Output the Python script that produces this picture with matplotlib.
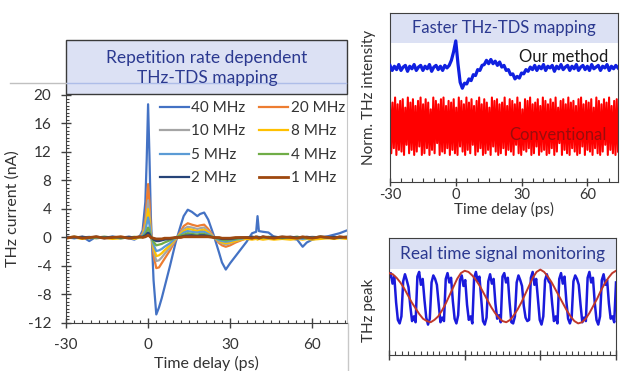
import numpy as np
import matplotlib
matplotlib.use("Agg")
import matplotlib.pyplot as plt
from matplotlib.patches import Rectangle
from matplotlib.lines import Line2D
from matplotlib.ticker import MultipleLocator

plt.rcParams['font.family'] = ['Lato', 'DejaVu Sans']
plt.rcParams['axes.unicode_minus'] = False

# ---------------- data: left panel (THz current vs time delay) ----------------
t_left = [-30, -27, -24, -21.5, -19, -16, -13, -10, -7, -5,
          -3, -2, -1, -0.5, 0, 0.5, 1, 2, 3, 4,
          5, 6, 8, 10, 12, 13, 14.5, 16, 18, 19,
          20.5, 22, 24, 26, 27, 28.4, 30, 32, 34, 36,
          38, 39.5, 40, 40.5, 42, 44, 46, 49, 52, 54.5,
          56.5, 58, 60, 63, 66, 68, 70, 72.7]

mhz40 = [0.1, -0.1, 0.1, -0.5, 0.1, -0.1, 0.1, 0.0, -0.1, -0.3,
         0.2, 1.0, 5.0, 11.0, 18.7, 11.5, 3.0, -6.0, -10.8, -9.8,
         -8.5, -7.0, -4.0, -0.8, 1.8, 3.0, 3.9, 3.6, 3.0, 3.3,
         3.5, 2.5, 0.3, -2.2, -3.5, -4.5, -3.6, -2.6, -1.6, -0.6,
         0.6, 0.8, 3.0, 0.9, 0.8, 0.7, 0.1, 0.0, -0.1, -0.3,
         -1.3, -0.7, -0.3, 0.0, 0.2, 0.4, 0.6, 1.0]
mhz20 = [0.0, 0.1, -0.1, 0.0, 0.1, 0.0, -0.1, 0.1, 0.0, -0.1,
         0.1, 0.6, 2.5, 5.0, 7.5, 5.0, 1.0, -2.5, -4.3, -4.2,
         -3.6, -3.0, -1.8, -0.4, 0.9, 1.6, 2.0, 1.8, 1.6, 1.7,
         1.8, 1.2, 0.1, -0.8, -1.1, -1.3, -1.1, -0.7, -0.4, -0.1,
         0.1, 0.0, 0.1, 0.0, 0.1, 0.0, -0.1, 0.0, 0.1, -0.1,
         -0.2, -0.1, 0.0, 0.1, 0.0, -0.1, 0.1, 0.0]
mhz10 = [0.1, 0.0, 0.1, -0.1, 0.0, 0.1, 0.0, -0.1, 0.1, 0.0,
         0.1, 0.4, 1.8, 3.5, 5.2, 3.4, 0.7, -1.8, -3.3, -3.2,
         -2.8, -2.3, -1.4, -0.3, 0.7, 1.2, 1.5, 1.4, 1.2, 1.3,
         1.4, 0.9, 0.1, -0.6, -0.8, -1.0, -0.8, -0.5, -0.3, -0.1,
         0.0, 0.1, 0.0, 0.1, -0.1, 0.0, 0.1, -0.1, 0.0, 0.1,
         -0.1, 0.0, 0.1, 0.0, -0.1, 0.0, 0.1, 0.0]
mhz8 = [-0.1, 0.0, -0.2, 0.0, -0.1, 0.0, -0.2, -0.1, 0.0, -0.2,
        0.0, 0.3, 1.4, 2.7, 4.0, 2.6, 0.5, -1.4, -2.6, -2.5,
        -2.2, -1.8, -1.1, -0.2, 0.6, 0.9, 1.2, 1.1, 0.9, 1.0,
        1.1, 0.7, 0.0, -0.5, -0.7, -0.8, -0.7, -0.5, -0.3, -0.2,
        -0.3, -0.2, -0.3, -0.2, -0.3, -0.2, -0.3, -0.2, -0.3, -0.2,
        -0.3, -0.2, -0.3, -0.2, -0.1, -0.2, -0.1, -0.2]
mhz5 = [0.0, -0.1, 0.0, 0.1, -0.1, 0.0, 0.1, -0.1, 0.0, 0.0,
        0.1, 0.2, 1.0, 1.9, 2.8, 1.8, 0.3, -1.0, -1.9, -1.8,
        -1.6, -1.3, -0.8, -0.1, 0.4, 0.7, 0.9, 0.8, 0.7, 0.8,
        0.8, 0.5, 0.0, -0.4, -0.5, -0.6, -0.5, -0.3, -0.2, 0.0,
        0.1, 0.0, -0.1, 0.0, 0.1, -0.1, 0.0, 0.1, 0.0, -0.1,
        -0.2, -0.1, 0.0, 0.1, 0.0, 0.1, 0.0, 0.1]
mhz4 = [0.0, 0.1, 0.0, -0.1, 0.0, 0.1, 0.0, -0.1, 0.0, 0.1,
        0.0, 0.1, 0.5, 0.9, 1.4, 0.9, 0.1, -0.6, -1.1, -1.0,
        -0.9, -0.7, -0.4, 0.0, 0.3, 0.4, 0.6, 0.5, 0.4, 0.5,
        0.5, 0.3, 0.0, -0.2, -0.3, -0.4, -0.3, -0.2, -0.1, 0.0,
        0.0, 0.1, 0.0, -0.1, 0.0, 0.1, 0.0, -0.1, 0.0, 0.1,
        0.0, -0.1, 0.0, 0.1, 0.0, -0.1, 0.0, 0.1]
mhz2 = [0.1, 0.0, 0.1, 0.0, 0.1, 0.0, 0.1, 0.0, 0.1, 0.0,
        0.1, 0.1, 0.3, 0.5, 0.7, 0.5, 0.1, -0.3, -0.5, -0.5,
        -0.4, -0.3, -0.2, 0.0, 0.1, 0.2, 0.3, 0.3, 0.2, 0.3,
        0.3, 0.2, 0.0, -0.1, -0.2, -0.2, -0.2, -0.1, 0.0, 0.0,
        0.1, 0.0, 0.1, 0.0, 0.1, 0.0, 0.1, 0.0, 0.1, 0.0,
        0.0, 0.1, 0.0, 0.1, 0.0, 0.1, 0.0, 0.1]
mhz1 = [-0.1, 0.1, -0.1, 0.0, 0.1, -0.1, 0.0, 0.1, -0.1, 0.0,
        0.1, 0.0, 0.1, 0.2, 0.3, 0.2, 0.0, -0.1, -0.2, -0.2,
        -0.2, -0.1, -0.1, 0.0, 0.0, 0.1, 0.1, 0.1, 0.1, 0.1,
        0.1, 0.1, 0.0, 0.0, -0.1, -0.1, -0.1, 0.0, 0.0, 0.0,
        -0.1, 0.1, 0.0, -0.1, 0.1, 0.0, -0.1, 0.1, 0.0, -0.1,
        0.1, 0.0, -0.1, 0.1, 0.0, -0.1, 0.1, 0.0]

series_labels = ['40 MHz', '20 MHz', '10 MHz', '8 MHz', '5 MHz', '4 MHz', '2 MHz', '1 MHz']
series_values = [mhz40, mhz20, mhz10, mhz8, mhz5, mhz4, mhz2, mhz1]
series_colors = ['#4472C4', '#ED7D31', '#A5A5A5', '#FFC000',
                 '#5B9BD5', '#70AD47', '#264478', '#9E480E']
left_yticks = [20, 16, 12, 8, 4, 0, -4, -8, -12]
time_ticks = [-30, 0, 30, 60]

# ---------------- data: top right (faster mapping) ----------------
# our method, sampled every 1 ps from -30 to 74 ps (normalised axis units)
ours = [0.690, 0.660, 0.685, 0.665, 0.695, 0.660, 0.680, 0.690, 0.655, 0.685,
        0.670, 0.695, 0.660, 0.680, 0.690, 0.660, 0.685, 0.670, 0.695, 0.655,
        0.680, 0.690, 0.665, 0.685, 0.660, 0.690, 0.675,
        0.690, 0.720, 0.770, 0.835, 0.700, 0.590,
        0.555, 0.585, 0.580, 0.610, 0.600, 0.635, 0.630, 0.665, 0.660, 0.690,
        0.695, 0.720, 0.700, 0.725, 0.700, 0.715, 0.690, 0.710, 0.680, 0.690,
        0.660, 0.665, 0.635, 0.640, 0.610, 0.625, 0.615, 0.645, 0.640, 0.665,
        0.655, 0.680, 0.665,
        0.690, 0.660, 0.685, 0.670, 0.695, 0.660, 0.685, 0.675, 0.690, 0.655,
        0.685, 0.670, 0.695, 0.665, 0.680, 0.690, 0.660, 0.685, 0.670, 0.695,
        0.660, 0.680, 0.690, 0.665, 0.685, 0.660, 0.695, 0.670, 0.680, 0.690,
        0.660, 0.685, 0.675, 0.695, 0.660, 0.685, 0.670, 0.690, 0.675]
# conventional: alternating noise extremes (percent of axis height)
conv_peaks = [49, 47, 50, 46, 48, 49, 44, 50, 47, 49, 45, 48, 50, 46, 49, 47, 43, 50,
              48, 46, 49, 50, 45, 48, 47, 49, 44, 50, 48, 46, 50, 47, 49, 45, 48, 50,
              46, 49, 47, 44, 50, 48, 49, 46, 47, 50, 45, 49, 48, 46, 50, 47, 43, 49,
              48, 50, 46, 47, 49, 45, 50, 48, 46, 49, 47, 50, 44, 48, 49, 46, 50, 47,
              48, 45, 49, 50, 46, 48, 47, 49, 44, 50, 48, 46, 49, 47, 50, 45, 48, 49]
conv_troughs = [17, 20, 16, 19, 18, 16, 22, 17, 19, 16, 18, 21, 16, 17, 20, 16, 19, 17,
                23, 16, 18, 17, 20, 16, 19, 17, 16, 21, 18, 16, 19, 17, 22, 16, 18, 20,
                16, 17, 19, 16, 21, 18, 16, 17, 20, 16, 19, 18, 16, 22, 17, 16, 19, 18,
                20, 16, 17, 21, 16, 18, 19, 16, 17, 20, 16, 18, 23, 16, 19, 17, 16, 20,
                18, 16, 17, 21, 16, 19, 18, 16, 20, 17, 16, 18, 22, 16, 19, 17, 16, 18]

# ---------------- data: bottom right (real time monitoring) ----------------
peak_blue = [0.66, 0.70, 0.61, 0.67, 0.45, 0.30, 0.27, 0.33,
             0.63, 0.69, 0.64, 0.58, 0.42, 0.29, 0.33, 0.28,
             0.67, 0.71, 0.60, 0.65, 0.47, 0.32, 0.26, 0.31,
             0.62, 0.68, 0.65, 0.60, 0.44, 0.28, 0.32, 0.29,
             0.65, 0.70, 0.62, 0.66, 0.46, 0.31, 0.27, 0.34,
             0.64, 0.68, 0.59, 0.64, 0.43, 0.30, 0.33, 0.27,
             0.66, 0.71, 0.63, 0.67, 0.48, 0.29, 0.26, 0.32,
             0.63, 0.69, 0.61, 0.65, 0.44, 0.31, 0.34, 0.28,
             0.67, 0.70, 0.62, 0.66, 0.45, 0.28, 0.27, 0.33,
             0.62, 0.68, 0.64, 0.59, 0.42, 0.32, 0.29, 0.30,
             0.66, 0.71, 0.60, 0.65, 0.47, 0.30, 0.26, 0.33,
             0.64, 0.69, 0.63, 0.61, 0.44, 0.29, 0.33, 0.27,
             0.65, 0.70, 0.61, 0.67, 0.46, 0.31, 0.27, 0.32,
             0.63, 0.68, 0.65, 0.60, 0.43, 0.28, 0.32, 0.29,
             0.66, 0.71, 0.62, 0.66, 0.45, 0.30, 0.26, 0.33,
             0.64, 0.69, 0.60, 0.64, 0.44, 0.31, 0.33, 0.28, 0.62]
peak_red = [0.70, 0.69, 0.66, 0.62, 0.57, 0.51, 0.45, 0.40, 0.35, 0.31,
            0.29, 0.28, 0.30, 0.33, 0.38, 0.44, 0.51, 0.58, 0.65, 0.70,
            0.72, 0.71, 0.68, 0.64, 0.59, 0.53, 0.47, 0.41, 0.36, 0.32,
            0.29, 0.28, 0.30, 0.34, 0.39, 0.45, 0.52, 0.59, 0.66, 0.71,
            0.73, 0.71, 0.67, 0.62, 0.56, 0.50, 0.44, 0.38, 0.33, 0.29,
            0.27, 0.28, 0.31, 0.36, 0.42, 0.48, 0.55, 0.61, 0.66, 0.70, 0.72]

# ---------------- styling ----------------
W, H = 623, 371
LAV = '#dce1f4'
TITLE_C = '#2b3990'
FRAME = '#404040'
TXT = '#333333'


def fx(px):
    return px / W


def fy(py):
    return 1 - py / H


fig = plt.figure(figsize=(W / 100, H / 100), dpi=100)

# ===== left panel =====
axL = fig.add_axes([fx(66), fy(323), (347 - 66) / W, (323 - 95) / H])
handles = {}
for lab, vals, col in zip(series_labels, series_values, series_colors):
    lw = 1.6 if lab != '1 MHz' else 2.0
    handles[lab], = axL.plot(t_left, vals, color=col, lw=lw, label=lab)
axL.set_xlim(-30, 72.7)
axL.set_ylim(-12, 20)
axL.set_yticks(left_yticks)
axL.set_xticks(time_ticks)
axL.yaxis.set_minor_locator(MultipleLocator(0.5))
axL.xaxis.set_minor_locator(MultipleLocator(3))
axL.tick_params(which='major', direction='inout', length=7, width=1, color=FRAME,
                labelsize=11, pad=7, labelcolor=TXT)
axL.tick_params(which='minor', direction='in', length=2.5, width=0.8, color=FRAME)
axL.spines['top'].set_visible(False)
axL.spines['right'].set_color('#c8c8c8')
for s in ('left', 'bottom'):
    axL.spines[s].set_color(FRAME)
axL.set_ylabel('THz current (nA)', fontsize=11.5, color=TXT)
axL.yaxis.set_label_coords(-(66 - 20) / 281, 0.5)
axL.set_xlabel('Time delay (ps)', fontsize=11.5, color=TXT)
axL.xaxis.set_label_coords(0.5, -(363 - 323) / 228)
axL.xaxis.label.set_va('center')
# legend filled row by row (left column: 40,10,5,2 ; right column: 20,8,4,1)
order = [series_labels[i] for i in (0, 2, 4, 6, 1, 3, 5, 7)]
leg = axL.legend([handles[k] for k in order], order, ncol=2, frameon=False, loc='upper left',
                 bbox_to_anchor=((160 - 66) / 281, (323 - 101) / 228),
                 fontsize=11, handlelength=1.9, handletextpad=0.15,
                 columnspacing=0.9, labelspacing=0.62, borderpad=0, borderaxespad=0)
for txt in leg.get_texts():
    txt.set_color(TXT)

# title box of left panel
fig.add_artist(Line2D([fx(10), fx(66)], [fy(83), fy(83)], color='#c0c0c0', lw=1,
                      transform=fig.transFigure))
fig.add_artist(Rectangle((fx(66), fy(94)), (347 - 66) / W, 54 / H, transform=fig.transFigure,
                         facecolor=LAV, edgecolor='#3a3a3a', lw=1.0))
fig.add_artist(Line2D([fx(67), fx(346)], [fy(83), fy(83)], color='#aebde8', lw=1,
                      transform=fig.transFigure))
fig.text(fx(207), fy(68), 'Repetition rate dependent\nTHz-TDS mapping', ha='center',
         va='center', fontsize=12.5, color=TITLE_C, linespacing=1.3)
fig.add_artist(Line2D([fx(347.5), fx(347.5)], [fy(323), fy(371)], color='#c8c8c8', lw=1,
                      transform=fig.transFigure))

# ===== top right panel =====
axT = fig.add_axes([fx(390), fy(182), 228 / W, 169 / H])
axT.axhspan(0.822, 1.0, color=LAV, zorder=0, lw=0)
t_conv = np.linspace(-30, 74, 2 * len(conv_peaks))
conv = [v / 100 for pair in zip(conv_peaks, conv_troughs) for v in pair]
axT.plot(t_conv, conv, color='#ff0000', lw=1.5, zorder=2)
t_ours = np.linspace(-30, 74, len(ours))
axT.plot(t_ours, ours, color='#1020e0', lw=2.3, zorder=3)
axT.set_xlim(-30, 74)
axT.set_ylim(0, 1)
axT.set_yticks([])
axT.set_xticks(time_ticks)
axT.xaxis.set_minor_locator(MultipleLocator(5))
axT.tick_params(axis='x', which='major', direction='inout', length=6, width=1,
                color=FRAME, labelsize=10.5, pad=1.5, labelcolor=TXT)
axT.tick_params(axis='x', which='minor', direction='in', length=3, width=0.8, color=FRAME)
for s in axT.spines.values():
    s.set_color(FRAME)
axT.text(0.5, 0.911, 'Faster THz-TDS mapping', transform=axT.transAxes, ha='center',
         va='center', fontsize=12, color=TITLE_C, zorder=4)
axT.text(49, 0.74, 'Our method', ha='center', va='center', fontsize=12,
         color='#1a1a1a', zorder=4)
axT.text(46.5, 0.28, 'Conventional', ha='center', va='center', fontsize=12,
         color='#9a0c0c', zorder=4)
axT.set_ylabel('Norm. THz intensity', fontsize=11, color=TXT)
axT.yaxis.set_label_coords(-(390 - 376) / 228, 0.50)
axT.set_xlabel('Time delay (ps)', fontsize=11, color=TXT)
axT.xaxis.set_label_coords(0.5, -(209 - 182) / 169)
axT.xaxis.label.set_va('center')

# ===== bottom right panel =====
axB = fig.add_axes([fx(389), fy(355), 227 / W, 117 / H])
axB.axhspan(0.735, 1.0, color=LAV, zorder=0, lw=0)
x_blue = np.linspace(0, 3, len(peak_blue))
axB.plot(x_blue, peak_blue, color='#1a1adc', lw=1.8, zorder=2)
x_red = np.linspace(0, 3, len(peak_red))
axB.plot(x_red, peak_red, color='#c0392b', lw=1.4, zorder=3)
axB.set_xlim(0, 3)
axB.set_ylim(0, 1)
axB.set_yticks([])
axB.set_xticks([0, 1, 2, 3])
axB.set_xticklabels([])
axB.xaxis.set_minor_locator(MultipleLocator(1 / 12))
axB.tick_params(axis='x', which='major', direction='inout', length=7, width=1, color=FRAME)
axB.tick_params(axis='x', which='minor', direction='in', length=3, width=0.8, color=FRAME)
for s in axB.spines.values():
    s.set_color(FRAME)
axB.text(0.5, 0.865, 'Real time signal monitoring', transform=axB.transAxes, ha='center',
         va='center', fontsize=12.4, color=TITLE_C, zorder=4)
axB.set_ylabel('THz peak', fontsize=11, color=TXT)
axB.yaxis.set_label_coords(-(389 - 376) / 227, 0.38)

fig.savefig('out.png', dpi=100)
